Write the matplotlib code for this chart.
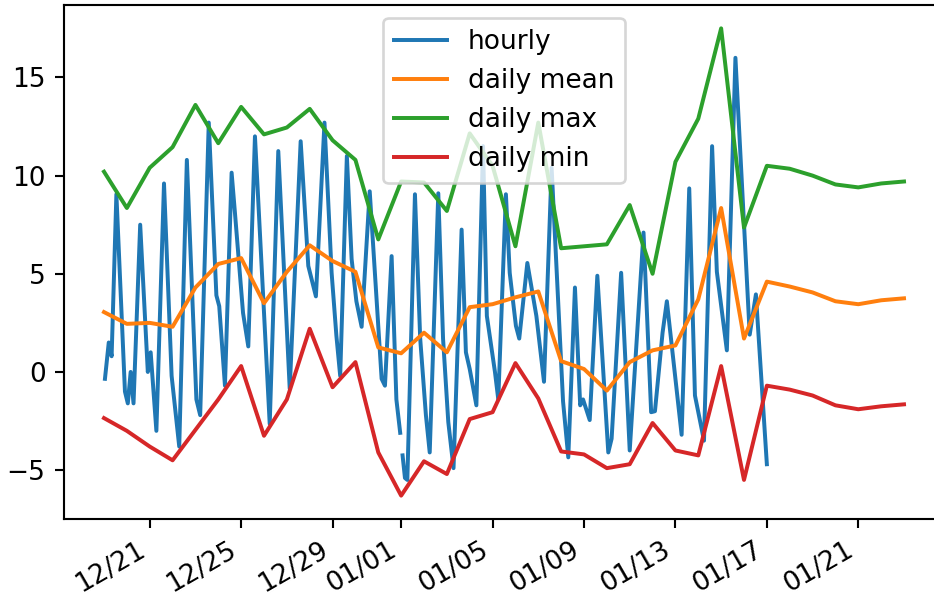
import matplotlib
matplotlib.use("Agg")
import matplotlib.pyplot as plt
import matplotlib.dates as mdates
import numpy as np
import pandas as pd

start = pd.Timestamp("2019-12-19")

# hourly temperature: hours since start and value
hourly_hours = [
    1, 5, 8, 13, 22, 25, 28, 31, 38, 46, 49, 55, 63, 71, 79, 87, 97, 101,
    110, 118, 121, 127, 134, 137.5, 146, 151.5, 158.5, 174, 183, 195, 206.5,
    214.5, 222.5, 231.5, 239, 244, 248, 255, 260, 265, 270.5, 279, 291.5, 295,
    302, 307, 311, 312, 313.5, 316, 318.5, 326.5, 332, 338, 342, 351, 356,
    361.5, 367, 375.5, 380, 384, 391, 398, 402, 410.5, 414, 422, 426, 432.5,
    436, 444.5, 454, 462, 470, 482, 487.5, 494.5, 500, 503, 510, 518, 529.5,
    533, 543, 552, 566.5, 574.5, 578.5, 586.5, 591, 606.5, 614.5, 620.5, 630,
    638.5, 643.5, 654, 663, 678, 684.5, 696,
]
hourly_temp = [
    -0.35, 1.5, 0.8, 9.05, -1.0, -1.6, 0.0, -1.6, 7.5, 0.0, 1.0, -3.0, 9.6,
    -0.2, -3.8, 10.8, -1.4, -2.2, 12.7, 3.9, 3.35, -0.7, 10.15, 8.1, 3.0, 1.3,
    12.0, -2.65, 11.25, -0.85, 11.75, 5.4, 3.85, 12.7, 5.05, 1.85, -0.2, 11.0,
    5.75, 3.6, 2.3, 9.2, -0.35, -0.7, 5.9, -1.4, -3.1, np.nan, -4.25, -5.4,
    -5.5, 9.05, 1.7, -2.2, -4.1, 9.1, 1.7, -2.55, -4.9, 7.25, 1.0, 0.15, -1.7,
    11.5, 2.85, 0.0, -1.4, 9.05, 5.05, 2.35, 1.7, 5.55, 2.85, -0.5, 10.4, -1.5,
    -4.35, 4.3, -1.7, -1.4, -2.45, 4.9, -4.1, -3.4, 5.05, -4.0, 7.1, -2.05,
    -2.0, 2.0, 3.6, -3.2, 9.35, -1.2, -3.5, 11.5, 5.1, 1.1, 16.0, 1.9, 3.95,
    -4.7,
]

# daily statistics, 12/19 .. 01/23
daily_mean = [
    3.05, 2.45, 2.5, 2.3, 4.3, 5.5, 5.8, 3.5, 5.1, 6.45, 5.65, 5.1, 1.25, 0.95,
    2.0, 1.0, 3.3, 3.45, 3.8, 4.1, 0.55, 0.15, -0.95, 0.5, 1.1, 1.35, 3.7, 8.35,
    1.7, 4.6, 4.35, 4.05, 3.6, 3.45, 3.65, 3.75,
]
daily_max = [
    10.2, 8.35, 10.4, 11.45, 13.6, 11.65, 13.5, 12.1, 12.45, 13.4, 11.8, 10.8,
    6.75, 9.7, 9.65, 8.2, 12.15, 10.5, 6.4, 12.7, 6.3, 6.4, 6.5, 8.5, 5.0, 10.7,
    12.9, 17.5, 7.35, 10.5, 10.35, 10.0, 9.55, 9.4, 9.6, 9.7,
]
daily_min = [
    -2.35, -3.0, -3.8, -4.5, -2.95, -1.4, 0.3, -3.25, -1.4, 2.2, -0.78, 0.5,
    -4.1, -6.3, -4.55, -5.2, -2.4, -2.05, 0.45, -1.35, -4.05, -4.2, -4.9, -4.7,
    -2.6, -4.0, -4.25, 0.3, -5.5, -0.7, -0.9, -1.2, -1.7, -1.9, -1.75, -1.65,
]

hourly_idx = start + pd.to_timedelta(hourly_hours, unit="h")
daily_idx = pd.date_range(start, periods=len(daily_mean), freq="D")

dpi = 190
fig = plt.figure(figsize=(934 / dpi, 597 / dpi), dpi=dpi)
ax = fig.add_axes([64 / 934, 78 / 597, 880 / 934, 514 / 597])
ax.plot(hourly_idx, hourly_temp, label="hourly")
ax.plot(daily_idx, daily_mean, label="daily mean")
ax.plot(daily_idx, daily_max, label="daily max")
ax.plot(daily_idx, daily_min, label="daily min")
ax.legend(loc="upper center")

ax.xaxis.set_major_locator(mdates.DayLocator(bymonthday=[1, 5, 9, 13, 17, 21, 25, 29]))
ax.xaxis.set_major_formatter(mdates.DateFormatter("%m/%d"))
plt.setp(ax.get_xticklabels(), rotation=30, ha="right")

fig.savefig("out.png", dpi=dpi)
